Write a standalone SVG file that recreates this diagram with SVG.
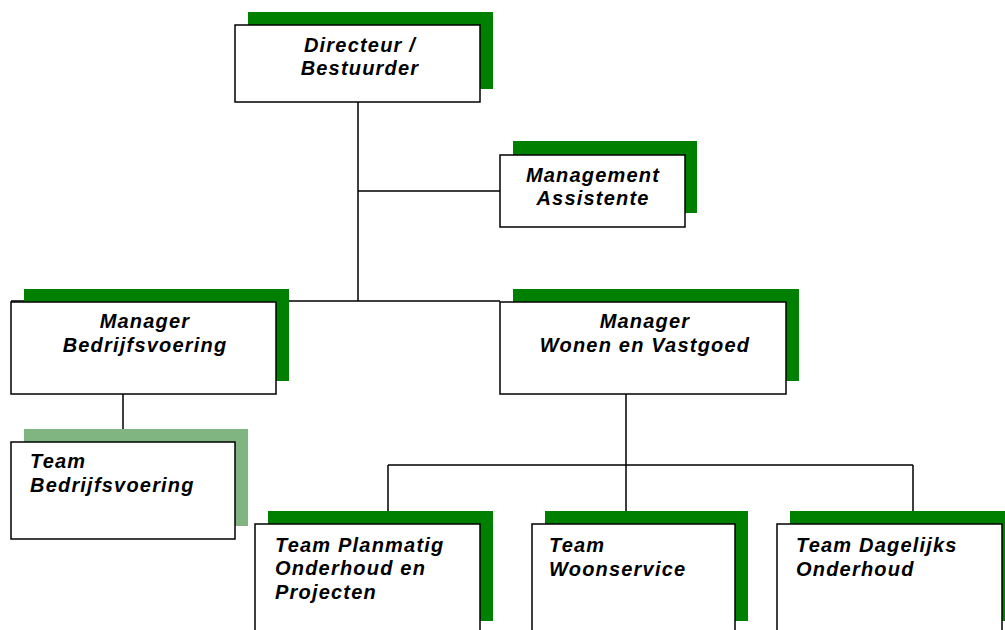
<svg xmlns="http://www.w3.org/2000/svg" width="1005" height="630" viewBox="0 0 1005 630">
<style>
.sh{fill:#008000}
.shl{fill:#80b480}
.bx{fill:#fff;stroke:#000;stroke-width:1.5}
.t{font-family:"Liberation Sans",Arial,sans-serif;font-size:20px;font-weight:bold;font-style:italic;fill:#000;letter-spacing:1.2px}
.c{text-anchor:middle}
.ln{stroke:#000;stroke-width:1.5;fill:none}
</style>
<rect width="1005" height="630" fill="#fff"/>
<g id="connectors">
<path class="ln" d="M358 102V301M358 191H500M11 301H500M123 394V442M626 394V465M388 465H913M388 465V524M626 465V524M913 465V524"/>
</g>
<g id="directeur">
<rect class="sh" x="248" y="12" width="245" height="77"/>
<rect class="bx" x="235" y="25" width="245" height="77"/>
<text class="t c" x="360" y="52">Directeur /</text>
<text class="t c" x="360" y="75">Bestuurder</text>
</g>
<g id="assistente">
<rect class="sh" x="513" y="141" width="184" height="72"/>
<rect class="bx" x="500" y="155" width="185" height="72"/>
<text class="t c" x="593" y="182">Management</text>
<text class="t c" x="593" y="205">Assistente</text>
</g>
<g id="manager-bedrijfsvoering">
<rect class="sh" x="24" y="289" width="265" height="92"/>
<rect class="bx" x="11" y="302" width="265" height="92"/>
<text class="t c" x="145" y="328">Manager</text>
<text class="t c" x="145" y="352">Bedrijfsvoering</text>
</g>
<g id="manager-wonen">
<rect class="sh" x="513" y="289" width="286" height="92"/>
<rect class="bx" x="500" y="302" width="286" height="92"/>
<text class="t c" x="645" y="328">Manager</text>
<text class="t c" x="645" y="352">Wonen en Vastgoed</text>
</g>
<g id="team-bedrijfsvoering">
<rect class="shl" x="24" y="429" width="224" height="97"/>
<rect class="bx" x="11" y="442" width="224" height="97"/>
<text class="t" x="30" y="468">Team</text>
<text class="t" x="30" y="492">Bedrijfsvoering</text>
</g>
<g id="team-planmatig">
<rect class="sh" x="268" y="511" width="225" height="110"/>
<rect class="bx" x="255" y="524" width="225" height="120"/>
<text class="t" x="275" y="552">Team Planmatig</text>
<text class="t" x="275" y="575">Onderhoud en</text>
<text class="t" x="275" y="599">Projecten</text>
</g>
<g id="team-woonservice">
<rect class="sh" x="545" y="511" width="203" height="110"/>
<rect class="bx" x="532" y="524" width="203" height="120"/>
<text class="t" x="549" y="552">Team</text>
<text class="t" x="549" y="576">Woonservice</text>
</g>
<g id="team-dagelijks">
<rect class="sh" x="790" y="511" width="225" height="110"/>
<rect class="bx" x="777" y="524" width="225" height="120"/>
<text class="t" x="796" y="552">Team Dagelijks</text>
<text class="t" x="796" y="576">Onderhoud</text>
</g>
</svg>
